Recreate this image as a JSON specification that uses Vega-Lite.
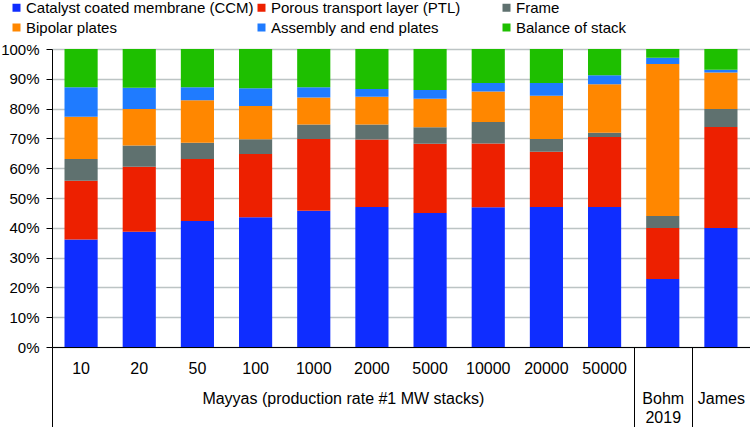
{
  "$schema": "https://vega.github.io/schema/vega-lite/v6.json",
  "width": 698,
  "height": 298,
  "autosize": {"type": "none"},
  "padding": {"left": 52, "top": 49, "right": 0, "bottom": 80},
  "background": "white",
  "config": {
    "view": {"stroke": null},
    "font": "Liberation Sans",
    "axis": {"labelFont": "Liberation Sans", "labelFontSize": 16, "labelColor": "black", "titleFont": "Liberation Sans"},
    "legend": {"labelFont": "Liberation Sans", "labelFontSize": 15, "labelColor": "black"}
  },
  "datasets": {
    "bars": [
      {"cat": "10", "comp": "Catalyst coated membrane (CCM)", "k": 1, "v": 36.1},
      {"cat": "10", "comp": "Porous transport layer (PTL)", "k": 2, "v": 19.7},
      {"cat": "10", "comp": "Frame", "k": 3, "v": 7.3},
      {"cat": "10", "comp": "Bipolar plates", "k": 4, "v": 14.2},
      {"cat": "10", "comp": "Assembly and end plates", "k": 5, "v": 9.9},
      {"cat": "10", "comp": "Balance of stack", "k": 6, "v": 12.8},
      {"cat": "20", "comp": "Catalyst coated membrane (CCM)", "k": 1, "v": 38.7},
      {"cat": "20", "comp": "Porous transport layer (PTL)", "k": 2, "v": 21.8},
      {"cat": "20", "comp": "Frame", "k": 3, "v": 7.1},
      {"cat": "20", "comp": "Bipolar plates", "k": 4, "v": 12.3},
      {"cat": "20", "comp": "Assembly and end plates", "k": 5, "v": 7.1},
      {"cat": "20", "comp": "Balance of stack", "k": 6, "v": 13.0},
      {"cat": "50", "comp": "Catalyst coated membrane (CCM)", "k": 1, "v": 42.3},
      {"cat": "50", "comp": "Porous transport layer (PTL)", "k": 2, "v": 20.8},
      {"cat": "50", "comp": "Frame", "k": 3, "v": 5.4},
      {"cat": "50", "comp": "Bipolar plates", "k": 4, "v": 14.3},
      {"cat": "50", "comp": "Assembly and end plates", "k": 5, "v": 4.4},
      {"cat": "50", "comp": "Balance of stack", "k": 6, "v": 12.8},
      {"cat": "100", "comp": "Catalyst coated membrane (CCM)", "k": 1, "v": 43.5},
      {"cat": "100", "comp": "Porous transport layer (PTL)", "k": 2, "v": 21.3},
      {"cat": "100", "comp": "Frame", "k": 3, "v": 4.9},
      {"cat": "100", "comp": "Bipolar plates", "k": 4, "v": 11.2},
      {"cat": "100", "comp": "Assembly and end plates", "k": 5, "v": 5.9},
      {"cat": "100", "comp": "Balance of stack", "k": 6, "v": 13.2},
      {"cat": "1000", "comp": "Catalyst coated membrane (CCM)", "k": 1, "v": 45.7},
      {"cat": "1000", "comp": "Porous transport layer (PTL)", "k": 2, "v": 24.1},
      {"cat": "1000", "comp": "Frame", "k": 3, "v": 4.9},
      {"cat": "1000", "comp": "Bipolar plates", "k": 4, "v": 9.0},
      {"cat": "1000", "comp": "Assembly and end plates", "k": 5, "v": 3.5},
      {"cat": "1000", "comp": "Balance of stack", "k": 6, "v": 12.8},
      {"cat": "2000", "comp": "Catalyst coated membrane (CCM)", "k": 1, "v": 47.0},
      {"cat": "2000", "comp": "Porous transport layer (PTL)", "k": 2, "v": 22.6},
      {"cat": "2000", "comp": "Frame", "k": 3, "v": 5.1},
      {"cat": "2000", "comp": "Bipolar plates", "k": 4, "v": 9.3},
      {"cat": "2000", "comp": "Assembly and end plates", "k": 5, "v": 2.6},
      {"cat": "2000", "comp": "Balance of stack", "k": 6, "v": 13.4},
      {"cat": "5000", "comp": "Catalyst coated membrane (CCM)", "k": 1, "v": 45.0},
      {"cat": "5000", "comp": "Porous transport layer (PTL)", "k": 2, "v": 23.2},
      {"cat": "5000", "comp": "Frame", "k": 3, "v": 5.5},
      {"cat": "5000", "comp": "Bipolar plates", "k": 4, "v": 9.6},
      {"cat": "5000", "comp": "Assembly and end plates", "k": 5, "v": 2.9},
      {"cat": "5000", "comp": "Balance of stack", "k": 6, "v": 13.8},
      {"cat": "10000", "comp": "Catalyst coated membrane (CCM)", "k": 1, "v": 46.9},
      {"cat": "10000", "comp": "Porous transport layer (PTL)", "k": 2, "v": 21.4},
      {"cat": "10000", "comp": "Frame", "k": 3, "v": 7.2},
      {"cat": "10000", "comp": "Bipolar plates", "k": 4, "v": 10.2},
      {"cat": "10000", "comp": "Assembly and end plates", "k": 5, "v": 2.9},
      {"cat": "10000", "comp": "Balance of stack", "k": 6, "v": 11.4},
      {"cat": "20000", "comp": "Catalyst coated membrane (CCM)", "k": 1, "v": 47.0},
      {"cat": "20000", "comp": "Porous transport layer (PTL)", "k": 2, "v": 18.5},
      {"cat": "20000", "comp": "Frame", "k": 3, "v": 4.3},
      {"cat": "20000", "comp": "Bipolar plates", "k": 4, "v": 14.5},
      {"cat": "20000", "comp": "Assembly and end plates", "k": 5, "v": 4.3},
      {"cat": "20000", "comp": "Balance of stack", "k": 6, "v": 11.4},
      {"cat": "50000", "comp": "Catalyst coated membrane (CCM)", "k": 1, "v": 47.0},
      {"cat": "50000", "comp": "Porous transport layer (PTL)", "k": 2, "v": 23.5},
      {"cat": "50000", "comp": "Frame", "k": 3, "v": 1.4},
      {"cat": "50000", "comp": "Bipolar plates", "k": 4, "v": 16.3},
      {"cat": "50000", "comp": "Assembly and end plates", "k": 5, "v": 3.0},
      {"cat": "50000", "comp": "Balance of stack", "k": 6, "v": 8.8},
      {"cat": "Bohm 2019", "comp": "Catalyst coated membrane (CCM)", "k": 1, "v": 22.8},
      {"cat": "Bohm 2019", "comp": "Porous transport layer (PTL)", "k": 2, "v": 17.1},
      {"cat": "Bohm 2019", "comp": "Frame", "k": 3, "v": 4.1},
      {"cat": "Bohm 2019", "comp": "Bipolar plates", "k": 4, "v": 51.0},
      {"cat": "Bohm 2019", "comp": "Assembly and end plates", "k": 5, "v": 2.1},
      {"cat": "Bohm 2019", "comp": "Balance of stack", "k": 6, "v": 2.9},
      {"cat": "James", "comp": "Catalyst coated membrane (CCM)", "k": 1, "v": 39.9},
      {"cat": "James", "comp": "Porous transport layer (PTL)", "k": 2, "v": 33.9},
      {"cat": "James", "comp": "Frame", "k": 3, "v": 6.1},
      {"cat": "James", "comp": "Bipolar plates", "k": 4, "v": 12.2},
      {"cat": "James", "comp": "Assembly and end plates", "k": 5, "v": 0.9},
      {"cat": "James", "comp": "Balance of stack", "k": 6, "v": 7.0}
    ],
    "groups": [
      {"group": "Mayyas (production rate #1 MW stacks)", "pos": 0},
      {"group": "Bohm 2019", "pos": 10},
      {"group": "James", "pos": 11}
    ]
  },
  "layer": [
    {
      "data": {"name": "bars"},
      "mark": {"type": "bar"},
      "encoding": {
        "x": {
          "field": "cat",
          "type": "nominal",
          "sort": null,
          "scale": {"paddingInner": 0.43, "paddingOuter": 0.215},
          "axis": {
            "orient": "bottom",
            "title": null,
            "labelAngle": 0,
            "ticks": false,
            "labelPadding": 21,
            "labelBaseline": "middle",
            "labelExpr": "datum.value == 'Bohm 2019' || datum.value == 'James' ? '' : datum.value",
            "domainColor": "black",
            "domainWidth": 1,
            "grid": false
          }
        },
        "y": {
          "field": "v",
          "type": "quantitative",
          "stack": "zero",
          "scale": {"domain": [0, 100], "nice": false},
          "axis": {
            "title": null,
            "values": [0, 10, 20, 30, 40, 50, 60, 70, 80, 90, 100],
            "labelExpr": "datum.value + '%'",
            "labelFontSize": 15,
            "domainColor": "black",
            "domainWidth": 1,
            "tickColor": "black",
            "tickSize": 6,
            "labelPadding": 7,
            "grid": true,
            "gridColor": "#bcc4c4",
            "gridWidth": 1.3
          }
        },
        "color": {
          "field": "comp",
          "type": "nominal",
          "scale": {
            "domain": ["Catalyst coated membrane (CCM)", "Bipolar plates", "Porous transport layer (PTL)", "Assembly and end plates", "Frame", "Balance of stack"],
            "range": ["#0f2dff", "#ff8700", "#ed2000", "#1f7bff", "#5f716f", "#1ebf00"]
          },
          "legend": {
            "title": null,
            "orient": "none",
            "legendX": -43,
            "legendY": -49,
            "columns": 3,
            "gridAlign": "all",
            "columnPadding": 0,
            "rowPadding": 4,
            "symbolType": "square",
            "symbolSize": 64,
            "symbolStrokeWidth": 0,
            "labelOffset": 2,
            "padding": 0,
            "labelLimit": 400
          }
        },
        "order": {"field": "k", "type": "quantitative", "sort": "ascending"}
      }
    },
    {
      "data": {"name": "groups"},
      "mark": {"type": "rule", "opacity": 0},
      "encoding": {
        "x": {
          "field": "pos",
          "type": "quantitative",
          "scale": {"domain": [0, 12], "nice": false, "zero": false},
          "axis": {
            "orient": "bottom",
            "title": null,
            "values": [0, 5, 10, 10.5, 11, 11.5],
            "domain": false,
            "grid": false,
            "tickSize": 80,
            "tickColor": "black",
            "tickWidth": 1,
            "tickOpacity": {"condition": {"test": "datum.value == 0 || datum.value == 10 || datum.value == 11", "value": 1}, "value": 0},
            "labelExpr": "datum.value == 5 ? 'Mayyas (production rate #1 MW stacks)' : datum.value == 10.5 ? ['Bohm', '2019'] : datum.value == 11.5 ? 'James' : ''",
            "labelBaseline": "top",
            "labelLineHeight": 19,
            "labelPadding": -37,
            "labelLimit": 400,
            "labelFlush": false,
            "labelOverlap": false,
            "labelBound": false,
            "labelAngle": 0
          }
        }
      }
    }
  ],
  "resolve": {"scale": {"x": "independent"}, "axis": {"x": "independent"}}
}
